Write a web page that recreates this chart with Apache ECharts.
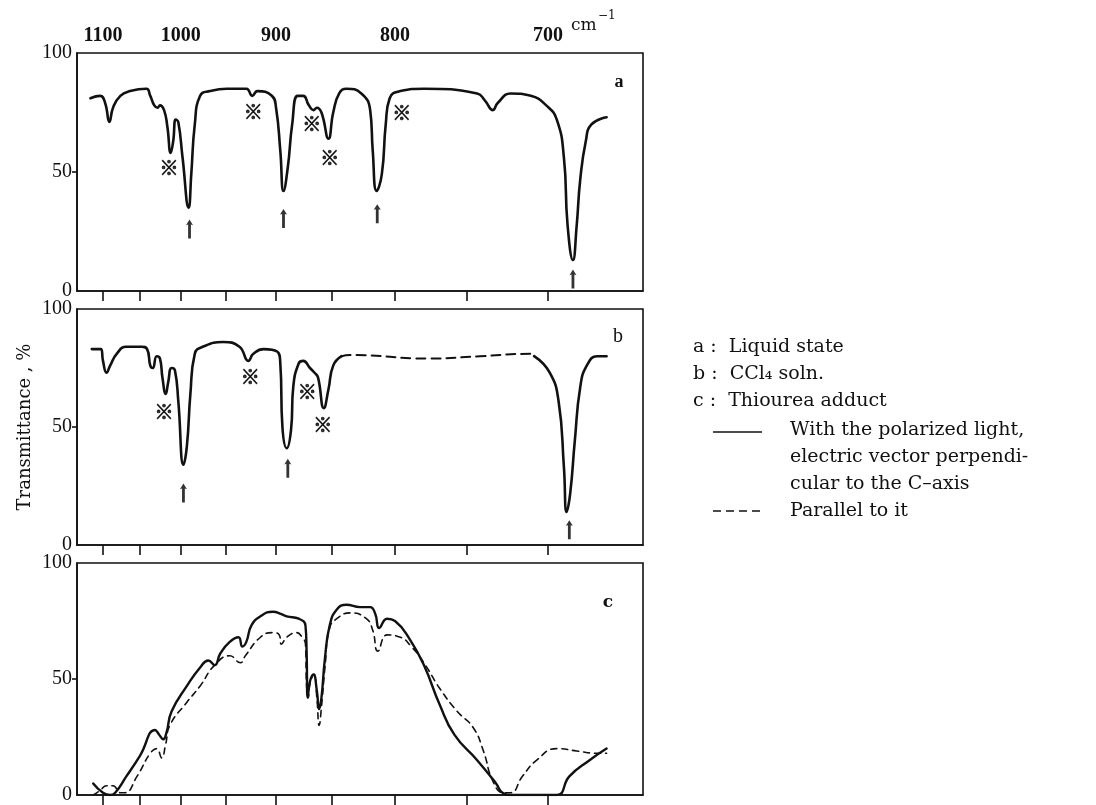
<!DOCTYPE html>
<html><head><meta charset="utf-8">
<script src="https://cdn.jsdelivr.net/npm/echarts@6/dist/echarts.min.js"></script>
<style>html,body{margin:0;padding:0;background:#fff}#c{width:1096px;height:805px}</style>
</head><body><div id="c"></div>
<script>
// ---- axis ticks (wavenumber, cm^-1); x is linear in wavelength ----
const xLabelNu = [1100, 1000, 900, 800, 700];
const xTickNu = [1100, 1050, 1000, 950, 900, 850, 800, 750, 700];
const yLabels = [0, 50, 100];

// ---- panel a : liquid state ----
const aNu = [1118,1104,1097,1091,1086,1076,1063,1042,1037,1032,1028,1025,1020,1016,1012,1009,1006,1003,998,991,988,984,978,967,949,929,923,918,904,900,896,893,889,885,880,875,870,866,863,859,853,849,844,838,826,819,817,814,810,807,804,796,779,743,738,733,730,722,710,701,695,691,689,686,684,682,679,676,668];
const aT  = [81,82,79,71,77,82,84,85,82,78,77,78,76,69,58,63,72,71,56,35,49,70,82,84,85,85,82,84,82,77,59,42,52,70,82,82,78,76,77,75,64,75,83,85,83,76,59,42,49,70,81,84,85,83,80,76,79,83,82,78,72,56,28,13,27,47,63,70,73];

// ---- panel b : CCl4 solution ----
const bNu1 = [1116,1103,1100,1095,1090,1081,1068,1048,1041,1037,1034,1029,1025,1022,1018,1015,1011,1007,1003,997,993,989,984,975,953,936,927,922,912,899,896,894,890,886,884,879,875,869,865,862,857,853,849,842];
const bT1  = [83,83,78,73,76,81,84,84,83,76,75,80,79,71,64,69,75,74,61,34,42,64,81,84,86,84,78,81,83,82,77,50,41,49,67,77,78,75,73,71,58,66,76,80];
const bDashNu = [842,835,775,741,710,708];
const bDashT  = [80,80.5,79,80,81,80];
const bNu2 = [708,699,694,691,689.5,687.5,685,682,678.5,673,668];
const bT2  = [80,73,61,33,14,22,44,67,76,80,80];

// ---- panel c : thiourea adduct ----
const cSolidNu = [1114,1100,1090,1083,1068,1050,1031,1026,1021,1017,1011,993,978,969,962,956,946,937,933,929,924,915,903,895,890,879,873,872,871,869,866,863,861,859,856,852,846,838,827,819,815,812,806,800,789,779,768,758,743,731,727,721,714,695,688,677,668];
const cSolidT  = [5,1,0,1,8,17,28,26,24,27,36,47,55,58,56,61,66,68,64,66,73,77,79,78,77,76,73,62,42,49,52,45,37,42,59,73,80,82,81,81,78,72,76,75,67,56,39,26,15,5,1,0,0,0,8,15,20];
const cDashNu = [1114,1104,1095,1086,1076,1070,1054,1037,1029,1023,1018,1013,993,978,962,946,935,930,915,903,897,895,890,881,876,873,872,870.5,869,865.5,863,861,859,856,852,846,835,822,817,813,806,796,788,779,768,756,745.5,739,733,726.5,722,715,706.5,695,684,673,668];
const cDashT  = [0,2,4,4,1,1,8,18,20,16,22,30,40,47,56,60,57,60,68,70,69,65,68,70,68,65,47,42,48,52,42,30,38,55,72,76,78.5,76,71,62,69,68,64,57,46,36,29,19,6,1,1,8,15,20,19,18,18];

// ---- annotation marks ----
const aRefNu = [1014, 922, 867.5, 852, 795];
const aRefT  = [51.7, 75.3, 70.4, 56.1, 74.9];
const aArrNu = [990, 893, 813.5, 686];
const aArrT  = [26, 30.5, 32.5, 5];
const bRefNu = [1020, 925, 871.4, 858];
const bRefT  = [56.5, 71.3, 65, 50.8];
const bArrNu = [997, 889, 688];
const bArrT  = [22, 32.5, 6.5];

// ---- build ----
const um = n => 10000 / n;
const pts = (nu, t) => nu.map((n, i) => [um(n), t[i]]);
const XMIN = 8.7875, XMAX = 15.395;
const SERIF = '"Liberation Serif", "DejaVu Serif", serif';
const DSERIF = '"DejaVu Serif", "Liberation Serif", serif';

const grids = [
  {left: 77, top: 53, width: 566, height: 238},
  {left: 77, top: 309, width: 566, height: 236},
  {left: 77, top: 563, width: 566, height: 235}
].map(g => Object.assign(g, {show: true, borderColor: '#111', borderWidth: 1.6, backgroundColor: 'transparent'}));

const xAxes = [0, 1, 2].map(i => ({
  type: 'value', gridIndex: i, position: 'top', min: XMIN, max: XMAX,
  axisLine: {show: true, lineStyle: {color: '#111', width: 1.6}},
  axisTick: {show: true, inside: true, length: 10, customValues: xTickNu.map(um), lineStyle: {color: '#111', width: 1.6}},
  axisLabel: {show: i === 0, customValues: xLabelNu.map(um), formatter: v => String(Math.round(10000 / v)),
    fontFamily: SERIF, fontWeight: 'bold', fontSize: 20, color: '#111', margin: 7},
  splitLine: {show: false}
}));
const yAxes = [0, 1, 2].map(i => ({
  type: 'value', gridIndex: i, min: 0, max: 100, interval: 50,
  axisLine: {show: true, lineStyle: {color: '#111', width: 1.6}},
  axisTick: {show: true, customValues: [50], length: 5, lineStyle: {color: '#111', width: 1.6}},
  axisLabel: {customValues: yLabels, fontFamily: SERIF, fontSize: 20, color: '#111', margin: 5},
  splitLine: {show: false}
}));

const lineS = (data, gi, type, width) => ({
  type: 'line', xAxisIndex: gi, yAxisIndex: gi, data, showSymbol: false, smooth: 0.5,
  lineStyle: {color: '#111', width: width, type: type, cap: 'round', join: 'round'}, silent: true, z: 3
});
const refS = (nu, t, gi) => ({
  type: 'scatter', xAxisIndex: gi, yAxisIndex: gi, data: pts(nu, t), symbolSize: 1,
  itemStyle: {color: 'rgba(0,0,0,0)'}, silent: true, z: 5,
  label: {show: true, position: 'inside', formatter: '※', fontSize: 19, fontWeight: 'bold', color: '#000',
    textBorderColor: '#000', textBorderWidth: 0.9,
    fontFamily: '"Noto Sans CJK JP", "DejaVu Sans", sans-serif'}
});
const ARROW = 'path://M5 0 L9 12 L6.6 10.5 L6.6 40 L3.4 40 L3.4 10.5 L1 12 Z';
const arrS = (nu, t, gi) => ({
  type: 'scatter', xAxisIndex: gi, yAxisIndex: gi, data: pts(nu, t), symbol: ARROW, symbolSize: [7, 19],
  itemStyle: {color: '#000'}, silent: true, z: 5
});

const series = [
  lineS(pts(aNu, aT), 0, 'solid', 2.6),
  lineS(pts(bNu1, bT1), 1, 'solid', 2.6),
  lineS(pts(bDashNu, bDashT), 1, [9, 6], 2.0),
  lineS(pts(bNu2, bT2), 1, 'solid', 2.6),
  lineS(pts(cSolidNu, cSolidT), 2, 'solid', 2.4),
  lineS(pts(cDashNu, cDashT), 2, [6, 5], 1.6),
  refS(aRefNu, aRefT, 0), arrS(aArrNu, aArrT, 0),
  refS(bRefNu, bRefT, 1), arrS(bArrNu, bArrT, 1)
];

const txt = (x, y, text, font, extra) => Object.assign({type: 'text', x, y, silent: true,
  style: Object.assign({text, font, fill: '#111', verticalAlign: 'middle'}, extra || {})});
const LF = '19px ' + DSERIF;
const graphic = [
  txt(571, 26, 'cm', '17px ' + DSERIF),
  txt(598, 16, '−1', '12px ' + DSERIF),
  txt(619, 82, 'a', 'bold 18px ' + SERIF, {align: 'center'}),
  txt(618, 337, 'b', '20px ' + SERIF, {align: 'center'}),
  txt(608, 603, 'c', 'bold 17px ' + DSERIF, {align: 'center'}),
  {type: 'text', x: 25, y: 427, rotation: Math.PI / 2, silent: true,
    style: {text: 'Transmittance , %', font: '18px ' + DSERIF, fill: '#111', align: 'center', verticalAlign: 'middle'}},
  txt(693, 347, 'a :  Liquid state', LF),
  txt(693, 374, 'b :  CCl₄ soln.', LF),
  txt(693, 401, 'c :  Thiourea adduct', LF),
  {type: 'line', silent: true, shape: {x1: 713, y1: 432, x2: 762, y2: 432}, style: {stroke: '#111', lineWidth: 1.5}},
  txt(790, 430, 'With the polarized light,', LF),
  txt(790, 457, 'electric vector perpendi-', LF),
  txt(790, 484, 'cular to the C–axis', LF),
  {type: 'line', silent: true, shape: {x1: 713, y1: 511, x2: 762, y2: 511}, style: {stroke: '#111', lineWidth: 1.5, lineDash: [8, 5]}},
  txt(790, 511, 'Parallel to it', LF)
];

const chart = echarts.init(document.getElementById('c'), null, {renderer: 'canvas'});
chart.setOption({
  animation: false, backgroundColor: '#fff',
  grid: grids, xAxis: xAxes, yAxis: yAxes, series, graphic
});
</script></body></html>
